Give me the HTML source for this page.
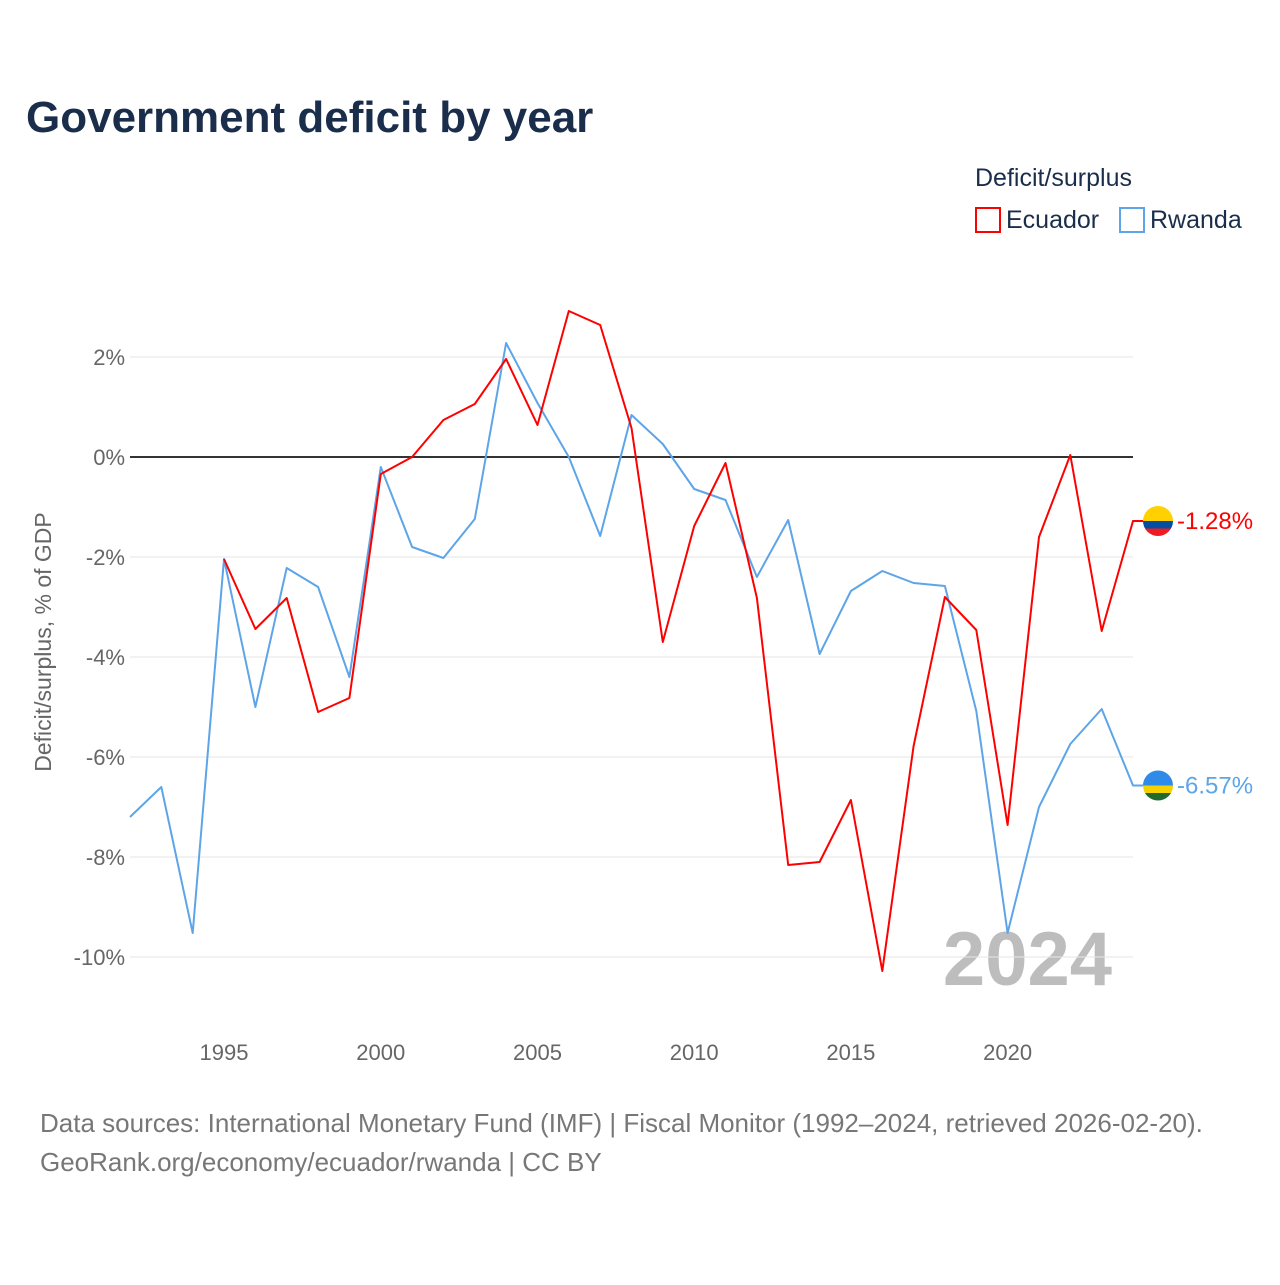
<!DOCTYPE html>
<html><head><meta charset="utf-8"><style>
body{margin:0;background:#fff;font-family:"Liberation Sans",sans-serif;}
</style></head><body>
<svg id="chart" width="1280" height="1280" xmlns="http://www.w3.org/2000/svg">
<rect width="1280" height="1280" fill="#fff"/>
<text x="26" y="132" font-size="44" font-weight="bold" fill="#1a2e4c">Government deficit by year</text>
<text x="975" y="186" font-size="25" fill="#1a2e4c">Deficit/surplus</text>
<g><rect x="976" y="208" width="24" height="24" fill="none" stroke="#ff0000" stroke-width="2"/><text x="1006" y="228" font-size="25" fill="#1a2e4c">Ecuador</text></g>
<g><rect x="1120" y="208" width="24" height="24" fill="none" stroke="#5da5e8" stroke-width="2"/><text x="1150" y="228" font-size="25" fill="#1a2e4c">Rwanda</text></g>
<text transform="translate(51,642) rotate(-90)" text-anchor="middle" font-size="23" fill="#666">Deficit/surplus, % of GDP</text>
<text x="1112" y="985" text-anchor="end" font-size="76" font-weight="bold" fill="#bdbdbd">2024</text>
<g id="grid"></g><g id="series"></g>
<text x="40" y="1132" font-size="26" fill="#777">Data sources: International Monetary Fund (IMF) | Fiscal Monitor (1992–2024, retrieved 2026-02-20).</text>
<text x="40" y="1171" font-size="26" fill="#777">GeoRank.org/economy/ecuador/rwanda | CC BY</text>
</svg>
<script>
const years = [1992,1993,1994,1995,1996,1997,1998,1999,2000,2001,2002,2003,2004,2005,2006,2007,2008,2009,2010,2011,2012,2013,2014,2015,2016,2017,2018,2019,2020,2021,2022,2023,2024];
const ecuador = [null,null,null,-2.04,-3.44,-2.82,-5.1,-4.82,-0.34,0.0,0.74,1.06,1.96,0.64,2.92,2.64,0.58,-3.7,-1.38,-0.12,-2.82,-8.16,-8.1,-6.86,-10.28,-5.78,-2.8,-3.46,-7.36,-1.6,0.04,-3.48,-1.28];
const rwanda = [-7.2,-6.6,-9.52,-2.04,-5.0,-2.22,-2.6,-4.4,-0.2,-1.8,-2.02,-1.24,2.28,1.08,0.0,-1.58,0.84,0.26,-0.64,-0.86,-2.4,-1.26,-3.94,-2.68,-2.28,-2.52,-2.58,-5.08,-9.52,-7.0,-5.74,-5.04,-6.57];
const yTicks = [2,0,-2,-4,-6,-8,-10];
const xTicks = [1995,2000,2005,2010,2015,2020];
const NS="http://www.w3.org/2000/svg";
const x = yr => 130 + (yr-1992)*(1133-130)/32;
const y = v => 457 - v*50;
function mk(tag, attrs, parent){const e=document.createElementNS(NS,tag);for(const k in attrs)e.setAttribute(k,attrs[k]);parent.appendChild(e);return e;}
const grid=document.getElementById('grid'), ser=document.getElementById('series');
yTicks.forEach(t=>{
  const l=mk('line',{x1:130,x2:1133,y1:y(t),y2:y(t),stroke:t===0?'#333':'#e6e6e6','stroke-width':t===0?2:1},grid);
  
  
  const tx=mk('text',{x:125,y:y(t)+8,'text-anchor':'end','font-size':22,fill:'#666'},grid);
  tx.textContent=t+'%';
  
  
});
xTicks.forEach(t=>{
  const tx=mk('text',{x:x(t),y:1060,'text-anchor':'middle','font-size':22,fill:'#666'},grid);
  tx.textContent=t;
  
  
});
function line(vals,color,name,stripes){
  let d='';let last=null;
  vals.forEach((v,i)=>{if(v===null)return;d+=(d?'L':'M')+x(years[i]).toFixed(1)+','+y(v).toFixed(1);last=v;});
  d+='L1143,'+y(last).toFixed(1);
  const p=mk('path',{d:d,fill:'none',stroke:color,'stroke-width':2,'stroke-linejoin':'round'},ser);
  
  
  const cy=y(last);
  const cp=mk('clipPath',{id:'clip-'+name},ser);
  mk('circle',{cx:1158,cy:cy,r:15},cp);
  const g=mk('g',{'clip-path':'url(#clip-'+name+')'},ser);
  
  
  mk('rect',{x:1143,y:cy-15,width:30,height:15,fill:stripes[0]},g);
  mk('rect',{x:1143,y:cy,width:30,height:7.5,fill:stripes[1]},g);
  mk('rect',{x:1143,y:cy+7.5,width:30,height:7.5,fill:stripes[2]},g);
  const t=mk('text',{x:1177,y:cy+8,'font-size':24,fill:color},ser);
  t.textContent=last.toFixed(2)+'%';
  
  
}
line(rwanda,'#5da5e8','rwanda',['#2f8be8','#f5d100','#1f6b2f']);
line(ecuador,'#ff0000','ecuador',['#ffd100','#034ea2','#ed1c24']);
</script>
</body></html>
